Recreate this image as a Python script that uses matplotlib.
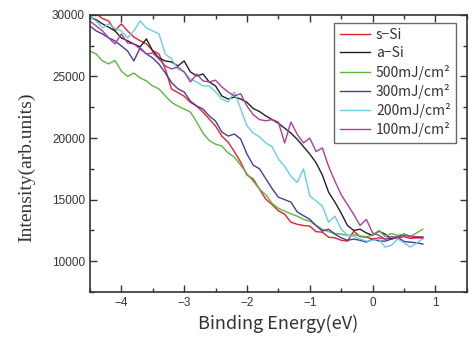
import numpy as np
import matplotlib
matplotlib.use("Agg")
import matplotlib.pyplot as plt
from matplotlib.ticker import MultipleLocator

energy = np.round(np.arange(-4.5, 0.81, 0.1), 2)

s_si = [29900, 30100, 29700, 29500, 28700, 29270, 28700, 28200, 27900, 27640,
        27100, 26830, 25610, 23980, 23700, 23400, 22900, 22600, 22110, 21540,
        20980, 20160, 19670, 18900, 18050, 17000, 16670, 15850, 15040, 14600,
        14100, 13820, 13170, 13000, 12900, 12850, 12400, 12360, 11950, 11900,
        11700, 11630, 12440, 12000, 11950, 11800, 11900, 11800, 11850, 11900,
        12000, 11850, 11900, 11870]

a_si = [29800, 29600, 29270, 29000, 28700, 28130, 27900, 27640, 27400, 28050,
        27070, 26500, 26260, 26180, 25850, 26260, 25370, 25040, 25200, 24550,
        24230, 23420, 23170, 23330, 23170, 22900, 22400, 22150, 21800, 21500,
        21200, 20800, 20400, 19900, 19300, 18700, 18000, 17000, 15600, 14800,
        13900, 12900, 12500, 12600, 12300, 12100, 12440, 12200, 11800, 12000,
        12200, 12000, 11950, 11950]

e500 = [27070, 26830, 26260, 26020, 26300, 25450, 25000, 25280, 24880, 24640,
        24230, 23990, 23420, 22900, 22600, 22360, 22110, 21300, 20400, 19800,
        19500, 19350, 18800, 18450, 17800, 17100, 16500, 15850, 15400, 14700,
        14300, 14070, 13850, 13660, 13400, 13250, 12900, 12600, 12400, 12250,
        12200, 12100, 12150, 12050, 12000, 12100, 12500, 12000, 12250, 12100,
        12200, 12000, 12300, 12600]

e300 = [29100, 28700, 28450, 28130, 27890, 27480, 27070, 26260, 27320, 26830,
        26500, 26000, 25300, 24500, 24000, 23740, 23000, 22600, 22360, 21790,
        21380, 20490, 20160, 20330, 19920, 18700, 17800, 17500, 16700, 15900,
        15200, 15000, 14800, 14000, 13700, 13400, 12900, 12450, 12600, 12200,
        11900, 11700, 11800, 11700, 11550, 11800, 11650, 11630, 11800, 11950,
        11600, 11550, 11500, 11390]

e200 = [29800, 29500, 28940, 29270, 28900, 28700, 28130, 28700, 29500, 28940,
        28700, 28450, 26830, 26420, 25610, 25370, 24800, 24550, 24230, 24230,
        23740, 23170, 22930, 23740, 22360, 21000, 20400, 20100, 19600, 19300,
        18300, 17700, 16900, 16400, 17500, 15300, 14900, 14470, 13170, 13660,
        12600, 12100, 12030, 11800, 11630, 11700, 11800, 11140, 11300, 11800,
        11500, 11140, 11500, 11800]

e100 = [29500, 29100, 28700, 28130, 27640, 28450, 27720, 27640, 27230, 26830,
        26910, 26420, 25850, 25610, 25770, 25370, 24550, 25200, 24640, 24550,
        24700, 24150, 23740, 23420, 23600, 22600, 21900, 21500, 21400, 21500,
        21300, 19600, 21300, 20300, 19600, 20000, 18900, 19200, 17700, 16500,
        15400, 14600, 13800, 12900, 13400, 12300, 12100, 11800, 12000, 11950,
        12100, 12030, 12000, 11950]

labels = ["s\u2212Si", "a\u2212Si", "500mJ/cm\u00b2", "300mJ/cm\u00b2",
          "200mJ/cm\u00b2", "100mJ/cm\u00b2"]
series = [s_si, a_si, e500, e300, e200, e100]
colors = ["#e8202c", "#222222", "#5cb840", "#4a3c9c", "#66d0e0", "#b03ca0"]

x_ticks = [-4, -3, -2, -1, 0, 1]
y_ticks = [10000, 15000, 20000, 25000, 30000]

fig = plt.figure(figsize=(4.73, 3.38), dpi=100)
ax = fig.add_axes([0.190, 0.136, 0.797, 0.820])

for y, lab, c in zip(series, labels, colors):
    ax.plot(energy, y, color=c, lw=1.0, label=lab)

ax.set_xlim(-4.5, 1.5)
ax.set_ylim(7500, 30000)
ax.set_xticks(x_ticks)
ax.set_xticklabels(["\u2212" + str(abs(t)) if t < 0 else str(t) for t in x_ticks])
ax.set_yticks(y_ticks)
ax.xaxis.set_minor_locator(MultipleLocator(0.5))
ax.yaxis.set_minor_locator(MultipleLocator(2500))
ax.tick_params(which="both", direction="in", top=True, right=True,
               colors="#333333", labelsize=8.5, width=1.0)
ax.tick_params(which="major", length=5)
ax.tick_params(which="minor", length=3)
for lbl in ax.get_xticklabels() + ax.get_yticklabels():
    lbl.set_family("Liberation Sans")
    lbl.set_color("#333333")
for s in ax.spines.values():
    s.set_linewidth(1.2)
    s.set_color("#333333")

ax.set_xlabel("Binding Energy(eV)", fontsize=13, family="Noto Sans CJK JP",
              color="#333333", labelpad=4)
ax.set_ylabel("Intensity(arb.units)", fontsize=14, family="Liberation Serif",
              color="#333333")
ax.yaxis.set_label_coords(-0.145, 0.45)

leg = ax.legend(loc="upper right", bbox_to_anchor=(0.972, 0.972),
                frameon=True, fancybox=False, edgecolor="#444444",
                handlelength=2.2, handletextpad=0.4, labelspacing=0.3,
                borderpad=0.4, borderaxespad=0,
                prop={"family": "Noto Sans CJK JP", "size": 10})
leg.get_frame().set_linewidth(1.0)
for t in leg.get_texts():
    t.set_color("#333333")

fig.savefig("out.png", dpi=100)
